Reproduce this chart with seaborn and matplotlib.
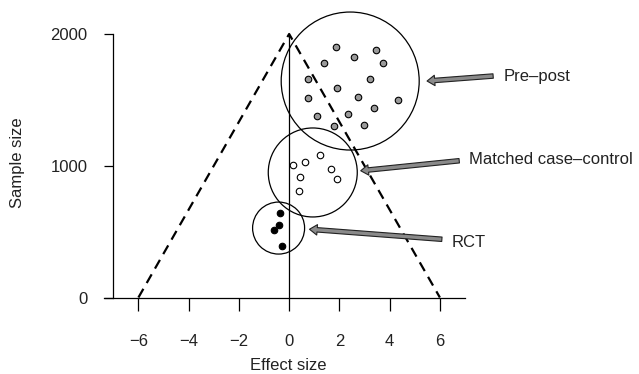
import matplotlib
matplotlib.use("Agg")
import matplotlib.pyplot as plt
from matplotlib.patches import Ellipse
import seaborn as sns
import pandas as pd

# ---- data ----
prepost_x = [1.87, 3.47, 2.59, 1.39, 3.72, 0.77, 3.20, 1.92, 0.75, 2.76, 4.34, 3.37, 1.12, 2.36, 1.79, 2.96]
prepost_y = [1899, 1881, 1828, 1780, 1780, 1661, 1657, 1591, 1513, 1525, 1502, 1442, 1377, 1389, 1305, 1311]
matched_x = [0.17, 0.65, 1.24, 1.67, 0.45, 1.90, 0.40]
matched_y = [1002, 1030, 1081, 977, 917, 899, 811]
rct_x = [-0.36, -0.41, -0.60, -0.27]
rct_y = [644, 553, 513, 394]

group_names = ["Pre\u2013post", "Matched case\u2013control", "RCT"]
funnel_x = [-6, 0, 6]
funnel_y = [0, 2000, 0]
x_ticks = [-6, -4, -2, 0, 2, 4, 6]
y_ticks = [0, 1000, 2000]
x_label = "Effect size"
y_label = "Sample size"

df = pd.DataFrame({
    "x": prepost_x + matched_x + rct_x,
    "y": prepost_y + matched_y + rct_y,
    "group": [group_names[0]] * len(prepost_x) + [group_names[1]] * len(matched_x) + [group_names[2]] * len(rct_x),
})

sns.set_style("white")
plt.rcParams["font.family"] = ["Liberation Sans", "DejaVu Sans"]

fig = plt.figure(figsize=(6.39, 3.74), dpi=100)
W, H = 639, 374
ax = fig.add_axes([104 / W, (H - 297.5) / H, (465 - 104) / W, (297.5 - 34) / H])
ax.set_xlim(-7.37, 7.0)
ax.set_ylim(0, 2000)

# funnel and vertical line
ax.plot(funnel_x, funnel_y, color="black", lw=1.6, ls=(0, (4.5, 3)), clip_on=False, zorder=2)
ax.plot([0, 0], [0, 2000], color="black", lw=0.9, clip_on=False, zorder=2)

# points
face = {group_names[0]: "#9a9a9a", group_names[1]: "white", group_names[2]: "black"}
for g in group_names:
    sub = df[df["group"] == g]
    sns.scatterplot(data=sub, x="x", y="y", ax=ax, color=face[g], edgecolor="black",
                    linewidth=0.8, s=22, zorder=4, clip_on=False, legend=False)

# circles around groups (radius in pixels, converted to data units)
px_x = (465 - 104) / (7.0 + 7.37)
px_y = (297.5 - 34) / 2000
circles = [(2.43, 1643, 69), (0.94, 949, 44.5), (-0.42, 527, 26)]
for cx, cy, r in circles:
    ax.add_patch(Ellipse((cx, cy), 2 * r / px_x, 2 * r / px_y, fill=False,
                         ec="black", lw=0.9, clip_on=False, zorder=3))

# arrows + labels
arrows = [((5.49, 1643), (8.12, 1681), (8.52, 1681)),
          ((2.85, 962), (6.77, 1038), (7.17, 1044)),
          ((0.81, 518), (6.08, 442), (6.45, 421))]
for g, (tip, tail, tpos) in zip(group_names, arrows):
    ax.annotate("", xy=tip, xytext=tail, annotation_clip=False,
                arrowprops=dict(arrowstyle="simple,head_length=0.55,head_width=0.75,tail_width=0.32",
                                fc="#8a8a8a", ec="#222222", lw=0.8, mutation_scale=10,
                                shrinkA=0, shrinkB=0))
    ax.text(tpos[0], tpos[1], g, ha="left", va="center", fontsize=12, color="#222222",
            clip_on=False)

# axes styling
sns.despine(ax=ax, top=True, right=True)
ax.spines["left"].set_position(("data", -7.0))
ax.spines["left"].set_bounds(0, 2000)
for s in ["left", "bottom"]:
    ax.spines[s].set_color("black")
    ax.spines[s].set_linewidth(0.9)
ax.set_xticks(x_ticks)
ax.set_xticklabels([str(t).replace("-", "\u2212") for t in x_ticks])
ax.set_yticks(y_ticks)
ax.tick_params(axis="x", direction="out", length=9.5, width=0.9, pad=17, labelsize=12,
               colors="black", labelcolor="#222222", bottom=True)
ax.tick_params(axis="y", direction="out", length=6.5, width=0.9, pad=12, labelsize=12,
               colors="black", labelcolor="#222222", left=True)
ax.set_xlabel(x_label, fontsize=12, color="#222222")
ax.set_ylabel(y_label, fontsize=12, color="#222222")
ax.xaxis.set_label_coords((288 - 104) / 361, (297.5 - 358) / 263.5)
ax.yaxis.set_label_coords((25 - 104) / 361, (297.5 - 163) / 263.5)
ax.grid(False)

fig.savefig("out.png", dpi=100)
